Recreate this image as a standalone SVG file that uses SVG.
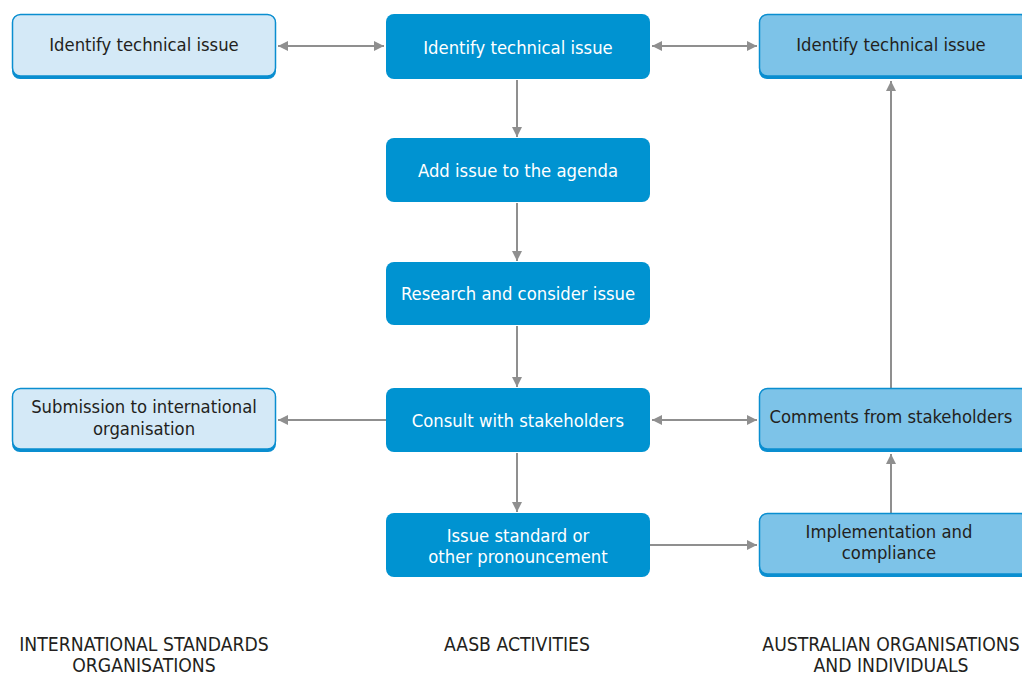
<svg xmlns="http://www.w3.org/2000/svg" width="1022" height="675" viewBox="0 0 1022 675">
<defs>
<marker id="ah" viewBox="0 0 10 10" refX="10" refY="5" markerWidth="5" markerHeight="5" orient="auto-start-reverse" markerUnits="strokeWidth">
<path d="M0,0 L10,5 L0,10 z" fill="#8f8f8f"/>
</marker>
<style>
text{font-family:"DejaVu Sans Condensed","Liberation Sans",sans-serif;font-size:18.3px;text-anchor:middle}
.dk{fill:#231f20}
.wh{fill:#ffffff}
.lab{fill:#231f20;font-size:19.2px}
.sh{fill:#0a8ed0}
.lt{fill:#d4e9f7;stroke:#0a8ed0;stroke-width:1.5}
.md{fill:#7dc3e8;stroke:#0a8ed0;stroke-width:1.5}
.ct{fill:#0093d1}
.cn{stroke:#8f8f8f;stroke-width:2;fill:none}
</style>
</defs>
<g id="connectors">
<line class="cn" x1="278" y1="46" x2="384" y2="46" marker-start="url(#ah)" marker-end="url(#ah)"/>
<line class="cn" x1="652" y1="46" x2="757" y2="46" marker-start="url(#ah)" marker-end="url(#ah)"/>
<line class="cn" x1="517" y1="80" x2="517" y2="137" marker-end="url(#ah)"/>
<line class="cn" x1="517" y1="203" x2="517" y2="261" marker-end="url(#ah)"/>
<line class="cn" x1="517" y1="326" x2="517" y2="387" marker-end="url(#ah)"/>
<line class="cn" x1="517" y1="453" x2="517" y2="512" marker-end="url(#ah)"/>
<line class="cn" x1="386" y1="420" x2="278" y2="420" marker-end="url(#ah)"/>
<line class="cn" x1="652" y1="420" x2="757" y2="420" marker-start="url(#ah)" marker-end="url(#ah)"/>
<line class="cn" x1="650" y1="545" x2="757" y2="545" marker-end="url(#ah)"/>
<line class="cn" x1="891" y1="513" x2="891" y2="454" marker-end="url(#ah)"/>
<line class="cn" x1="891" y1="388" x2="891" y2="81" marker-end="url(#ah)"/>
</g>
<g id="n-left-identify">
<rect class="sh" x="12" y="15" width="264" height="64" rx="8"/>
<rect class="lt" x="12.5" y="14.5" width="263" height="61.5" rx="8"/>
<text class="dk" x="144" y="51">Identify technical issue</text>
</g>
<g id="n-left-submission">
<rect class="sh" x="12" y="389" width="264" height="63" rx="8"/>
<rect class="lt" x="12.5" y="388.5" width="263" height="60.5" rx="8"/>
<text class="dk" x="144" y="413">Submission to international</text>
<text class="dk" x="144" y="435">organisation</text>
</g>
<g id="n-c1">
<rect class="ct" x="386" y="14" width="264" height="65" rx="8"/>
<text class="wh" x="518" y="54">Identify technical issue</text>
</g>
<g id="n-c2">
<rect class="ct" x="386" y="138" width="264" height="64" rx="8"/>
<text class="wh" x="518" y="177">Add issue to the agenda</text>
</g>
<g id="n-c3">
<rect class="ct" x="386" y="262" width="264" height="63" rx="8"/>
<text class="wh" x="518" y="300">Research and consider issue</text>
</g>
<g id="n-c4">
<rect class="ct" x="386" y="388" width="264" height="64" rx="8"/>
<text class="wh" x="518" y="427">Consult with stakeholders</text>
</g>
<g id="n-c5">
<rect class="ct" x="386" y="513" width="264" height="64" rx="8"/>
<text class="wh" x="518" y="542">Issue standard or</text>
<text class="wh" x="518" y="563">other pronouncement</text>
</g>
<g id="n-right-identify">
<rect class="sh" x="759" y="15" width="270" height="64" rx="8"/>
<rect class="md" x="759.5" y="14.5" width="269" height="61.5" rx="8"/>
<text class="dk" x="891" y="51">Identify technical issue</text>
</g>
<g id="n-right-comments">
<rect class="sh" x="759" y="389" width="270" height="63" rx="8"/>
<rect class="md" x="759.5" y="388.5" width="269" height="60.5" rx="8"/>
<text class="dk" x="891" y="423">Comments from stakeholders</text>
</g>
<g id="n-right-impl">
<rect class="sh" x="759" y="514" width="270" height="63" rx="8"/>
<rect class="md" x="759.5" y="513.5" width="269" height="60.5" rx="8"/>
<text class="dk" x="889" y="538">Implementation and</text>
<text class="dk" x="889" y="559">compliance</text>
</g>
<g id="labels">
<text class="lab" x="144" y="651">INTERNATIONAL STANDARDS</text>
<text class="lab" x="144" y="672">ORGANISATIONS</text>
<text class="lab" x="517" y="651">AASB ACTIVITIES</text>
<text class="lab" x="891" y="651">AUSTRALIAN ORGANISATIONS</text>
<text class="lab" x="891" y="672">AND INDIVIDUALS</text>
</g>
</svg>
